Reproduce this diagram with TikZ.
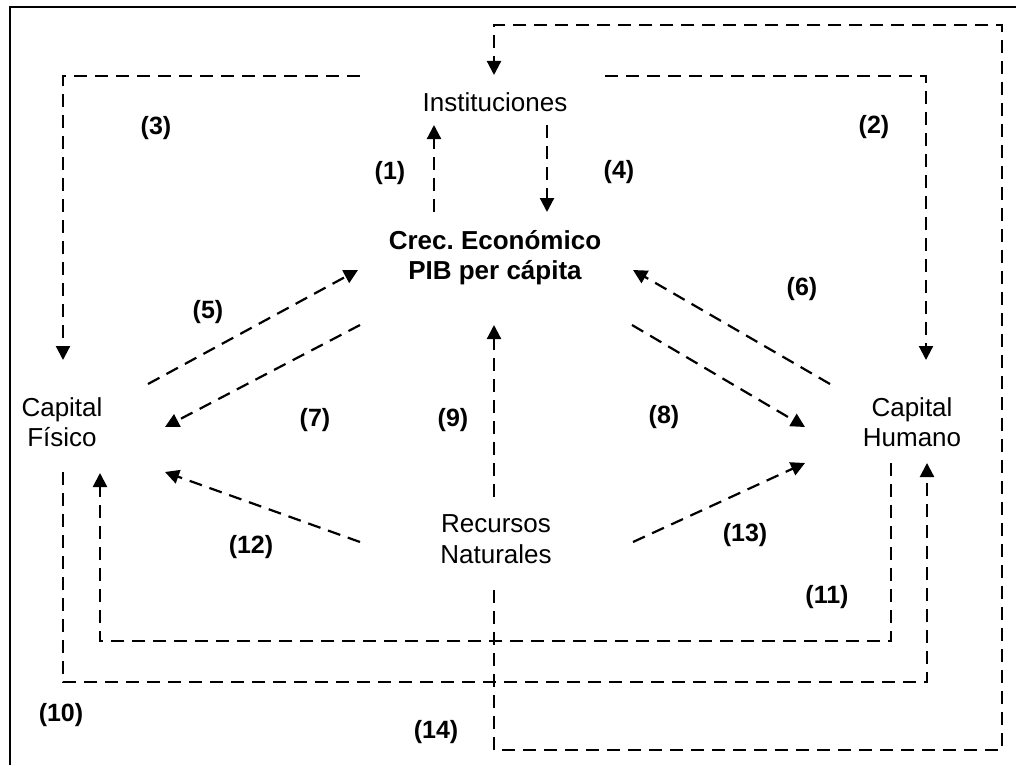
\documentclass[tikz,border=0pt]{standalone}
\usepackage{fontspec}
\setmainfont{Liberation Sans}
\usetikzlibrary{arrows.meta}
\frenchspacing

\begin{document}
\begin{tikzpicture}[x=1pt,y=-1pt,
  factor/.style={align=center,inner sep=0pt,font=\fontsize{26}{30.5}\selectfont},
  lbl/.style={inner sep=0pt,font=\fontsize{25}{30}\selectfont\bfseries},
  link/.style={line width=2.2pt,dash pattern=on 13pt off 8pt},
  flow/.style={link,-{Triangle[length=14pt,width=14pt]}}]
\useasboundingbox (0,0) rectangle (1016,765);
\draw[line width=2pt] (10,765)--(10,7)--(1016,7);

% factores
\node[factor] (inst) at (495,102.5) {Instituciones};
\node[factor,font=\fontsize{26}{30.5}\selectfont\bfseries] (crec) at (495,257.5) {Crec. Económico\\PIB per cápita};
\node[factor] (fis) at (62,422) {Capital\\Físico};
\node[factor] (hum) at (912,422) {Capital\\Humano};
\node[factor] (rec) at (496,539) {Recursos\\Naturales};

% extremos de las relaciones
\coordinate (inst-w) at (360,76);
\coordinate (inst-e) at (605,76);
\coordinate (inst-n) at (494,75);
\coordinate (inst-sw) at (434,125);
\coordinate (inst-se) at (547,125);
\coordinate (crec-nw) at (434,212);
\coordinate (crec-ne) at (547,212);
\coordinate (crec-w) at (358,270);
\coordinate (crec-sw) at (360,325);
\coordinate (crec-e) at (633,270);
\coordinate (crec-se) at (632,325);
\coordinate (crec-s) at (494,325);
\coordinate (fis-n) at (63,360);
\coordinate (fis-ne) at (148,384);
\coordinate (fis-e) at (165,427);
\coordinate (fis-se) at (165,472);
\coordinate (fis-s) at (100,473);
\coordinate (fis-sw) at (63,472);
\coordinate (hum-n) at (926,360);
\coordinate (hum-nw) at (830,384);
\coordinate (hum-w) at (805,427);
\coordinate (hum-sw) at (805,463);
\coordinate (hum-s) at (891,463);
\coordinate (hum-se) at (927,463);
\coordinate (rec-n) at (494,497);
\coordinate (rec-w) at (360,542);
\coordinate (rec-e) at (633,542);
\coordinate (rec-s) at (494,590);

% relaciones
\draw[flow] (crec-nw) -- (inst-sw);
\draw[flow] (inst-se) -- (crec-ne);
\draw[flow] (inst-w) -| (fis-n);
\draw[flow] (inst-e) -| (hum-n);
\draw[flow] (fis-ne) -- (crec-w);
\draw[flow] (crec-sw) -- (fis-e);
\draw[flow] (hum-nw) -- (crec-e);
\draw[flow] (crec-se) -- (hum-w);
\draw[flow] (rec-n) -- (crec-s);
\draw[flow] (rec-w) -- (fis-se);
\draw[flow] (rec-e) -- (hum-sw);
\draw[flow] (hum-s) -- (891,641) -| (fis-s);
\draw[flow] (fis-sw) -- (63,682) -| (hum-se);
\draw[flow] (rec-s) -- (494,750) -- (1002,750) -- (1002,25) -| (inst-n);

% numeros
\node[lbl] (n1) at (390,173) {(1)};
\node[lbl] (n2) at (874,127) {(2)};
\node[lbl] (n3) at (156,128) {(3)};
\node[lbl] (n4) at (619,172) {(4)};
\node[lbl] (n5) at (208,312) {(5)};
\node[lbl] (n6) at (802,289) {(6)};
\node[lbl] (n7) at (315,420) {(7)};
\node[lbl] (n8) at (664,417) {(8)};
\node[lbl] (n9) at (453,420) {(9)};
\node[lbl] (n10) at (61,715) {(10)};
\node[lbl] (n11) at (827,597) {(11)};
\node[lbl] (n12) at (251,547) {(12)};
\node[lbl] (n13) at (745,535) {(13)};
\node[lbl] (n14) at (436,732) {(14)};
\end{tikzpicture}
\end{document}
